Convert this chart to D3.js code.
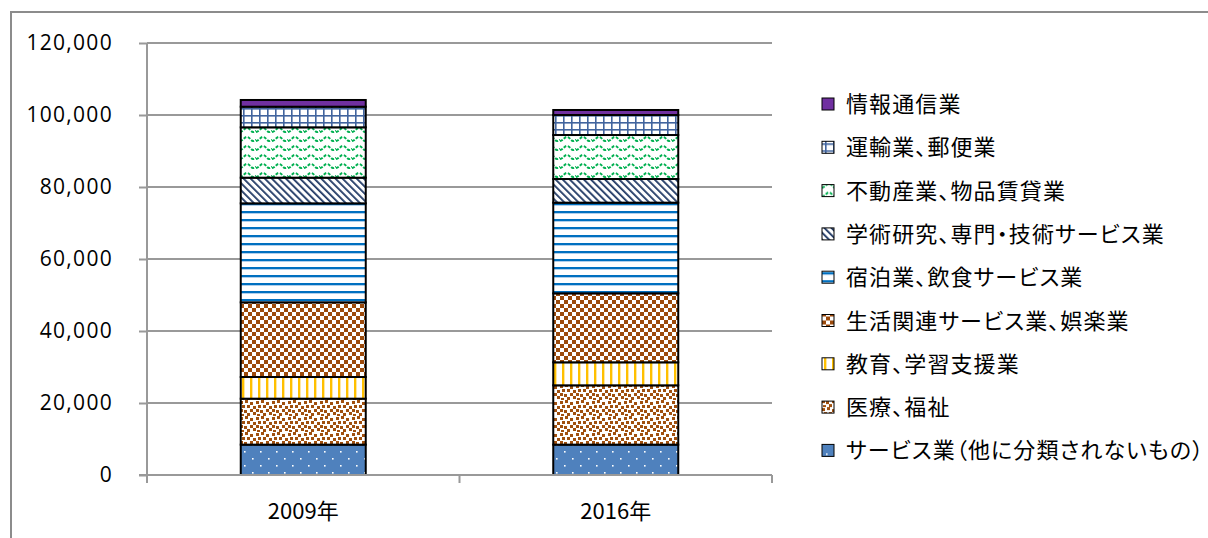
<!DOCTYPE html>
<html><head><meta charset="utf-8">
<script src="https://cdn.jsdelivr.net/npm/d3@7"></script>
<style>
html,body{margin:0;padding:0;background:#fff;}
svg{display:block;}
.jp{font-family:"Noto Sans CJK JP",sans-serif;font-feature-settings:"palt";}
</style></head><body>
<svg id="chart" width="1208" height="538"></svg>
<script>
// ---- data ----
const categories = ["2009年", "2016年"];
const seriesNames = [
  "サービス業（他に分類されないもの）",
  "医療、福祉",
  "教育、学習支援業",
  "生活関連サービス業、娯楽業",
  "宿泊業、飲食サービス業",
  "学術研究、専門・技術サービス業",
  "不動産業、物品賃貸業",
  "運輸業、郵便業",
  "情報通信業"
];
const values2009 = [8430, 12770, 6020, 20740, 27500, 7130, 13990, 5720, 1870];
const values2016 = [8430, 16480, 6390, 19160, 25190, 6570, 12220, 5560, 1390];
const yTicks = [0, 20000, 40000, 60000, 80000, 100000, 120000];

const svg = d3.select("#chart");

// ---- frame ----
svg.append("path").attr("d","M11,538 L11,12 L1208,12").attr("fill","none")
  .attr("stroke","#8c8c8c").attr("stroke-width",2);

// ---- patterns ----
const defs = svg.append("defs");
const patIds = ["p_other","p_med","p_edu","p_life","p_hotel","p_acad","p_estate","p_trans","p_info"];
function pat(id,w,h,attrs){const p=defs.append("pattern").attr("id",id).attr("patternUnits","userSpaceOnUse").attr("width",w).attr("height",h);if(attrs)for(const k in attrs)p.attr(k,attrs[k]);return p;}
{const p=pat("p_other",16,14);p.append("rect").attr("width",16).attr("height",14).attr("fill","#4F81BD");
 [[4,3],[12,10]].forEach(([x,y])=>p.append("rect").attr("x",x).attr("y",y).attr("width",1.6).attr("height",1.6).attr("fill","#fff"));}
{const p=pat("p_med",16,16);p.append("rect").attr("width",16).attr("height",16).attr("fill","#fff");
 [[0,1],[5,0],[10,2],[13,6],[2,5],[7,5],[10,9],[4,10],[0,9],[13,12],[7,13],[1,14]].forEach(([x,y])=>p.append("rect").attr("x",x).attr("y",y).attr("width",3).attr("height",3).attr("fill","#A0500F"));}
{const p=pat("p_edu",8,8);p.append("rect").attr("width",8).attr("height",8).attr("fill","#fff");
 p.append("rect").attr("x",2).attr("width",2).attr("height",8).attr("fill","#FFC000");
 p.append("rect").attr("x",4).attr("width",0.8).attr("height",8).attr("fill","#FFE08A");}
{const p=pat("p_life",8,8);p.append("rect").attr("width",8).attr("height",8).attr("fill","#fff");
 p.append("rect").attr("width",4).attr("height",4).attr("fill","#9C4A0B");
 p.append("rect").attr("x",4).attr("y",4).attr("width",4).attr("height",4).attr("fill","#9C4A0B");}
{const p=pat("p_hotel",8,8);p.append("rect").attr("width",8).attr("height",8).attr("fill","#fff");
 p.append("rect").attr("y",3).attr("width",8).attr("height",2).attr("fill","#0070C0");
 p.append("rect").attr("y",5).attr("width",8).attr("height",0.8).attr("fill","#9DC3E6");}
{const p=pat("p_acad",5,5,{patternTransform:"rotate(-45)"});p.append("rect").attr("width",5).attr("height",5).attr("fill","#fff");
 p.append("rect").attr("x",0).attr("width",1.8).attr("height",5).attr("fill","#1F3864");}
{const p=pat("p_estate",16,9);p.append("rect").attr("width",16).attr("height",9).attr("fill","#fff");
 p.append("path").attr("d","M0,6 C3,6 4,2 7,2 C10,2 11,6 13,6 C14.5,6 15,5 16,5").attr("fill","none")
  .attr("stroke","#00B050").attr("stroke-width",2).attr("stroke-dasharray","3,1.5");}
{const p=pat("p_trans",8,7);p.append("rect").attr("width",8).attr("height",7).attr("fill","#fff");
 p.append("rect").attr("x",3).attr("width",1.6).attr("height",7).attr("fill","#41649E");
 p.append("rect").attr("y",3).attr("width",8).attr("height",1.6).attr("fill","#41649E");}
{const p=pat("p_info",4,4);p.append("rect").attr("width",4).attr("height",4).attr("fill","#7030A0");}

// ---- scales ----
const x = d3.scaleBand().domain(categories).range([147,772]).paddingInner(0.6).paddingOuter(0.3);
const y = d3.scaleLinear().domain([0,120000]).range([475,43]);

svg.append("g").selectAll("line").data(yTicks.slice(1)).join("line")
  .attr("x1",147).attr("x2",772).attr("y1",d=>y(d)).attr("y2",d=>y(d))
  .attr("stroke","#999").attr("stroke-width",2);

const yAxis = svg.append("g").attr("transform","translate(147,0)")
  .call(d3.axisLeft(y).tickValues(yTicks).tickSize(8).tickPadding(26).tickFormat(d3.format(",")));
yAxis.select(".domain").attr("stroke","#999").attr("stroke-width",2).attr("d","M0,43 V483");
yAxis.selectAll(".tick line").attr("stroke","#999").attr("stroke-width",2);
yAxis.selectAll(".tick text").attr("font-size",21).attr("fill","#000")
  .attr("letter-spacing","1.3px").attr("font-family","Open Sans");

const table = categories.map((c,i)=>{const o={cat:c};seriesNames.forEach((s,j)=>o[s]=(i===0?values2009:values2016)[j]);return o;});
const stacked = d3.stack().keys(seriesNames)(table);

svg.append("g").selectAll("g").data(stacked).join("g")
  .attr("fill",(d,i)=>`url(#${patIds[i]})`)
  .selectAll("rect").data(d=>d).join("rect")
  .attr("x",d=>x(d.data.cat)).attr("width",x.bandwidth())
  .attr("y",d=>y(d[1])).attr("height",d=>y(d[0])-y(d[1]))
  .attr("stroke","#000").attr("stroke-width",2);

const xAxis = svg.append("g").attr("transform","translate(0,475)");
xAxis.append("line").attr("x1",139).attr("x2",772).attr("stroke","#999").attr("stroke-width",2);
const xTickPos = [147, 147 + x.step(), 147 + 2*x.step()];
xAxis.selectAll("line.t").data(xTickPos).join("line").attr("class","t")
  .attr("x1",d=>d).attr("x2",d=>d).attr("y1",0).attr("y2",8).attr("stroke","#999").attr("stroke-width",2);
xAxis.selectAll("text").data(categories).join("text")
  .attr("class","jp").attr("x",d=>x(d)+x.bandwidth()/2).attr("y",44)
  .attr("text-anchor","middle").attr("font-size",22).attr("fill","#000").text(d=>d);

const legend = svg.append("g");
const items = seriesNames.map((s,i)=>({s,i})).reverse();
const lg = legend.selectAll("g").data(items).join("g")
  .attr("transform",(d,k)=>`translate(822,${104+k*43.3})`);
lg.append("rect").attr("x",0).attr("y",-6).attr("width",12).attr("height",12)
  .attr("fill",d=>`url(#${patIds[d.i]})`).attr("stroke","#000").attr("stroke-width",1);
lg.append("text").attr("class","jp").attr("x",24).attr("y",8).attr("font-size",22)
  .attr("letter-spacing","1.1px").attr("fill","#000").text(d=>d.s);
</script>
</body></html>
